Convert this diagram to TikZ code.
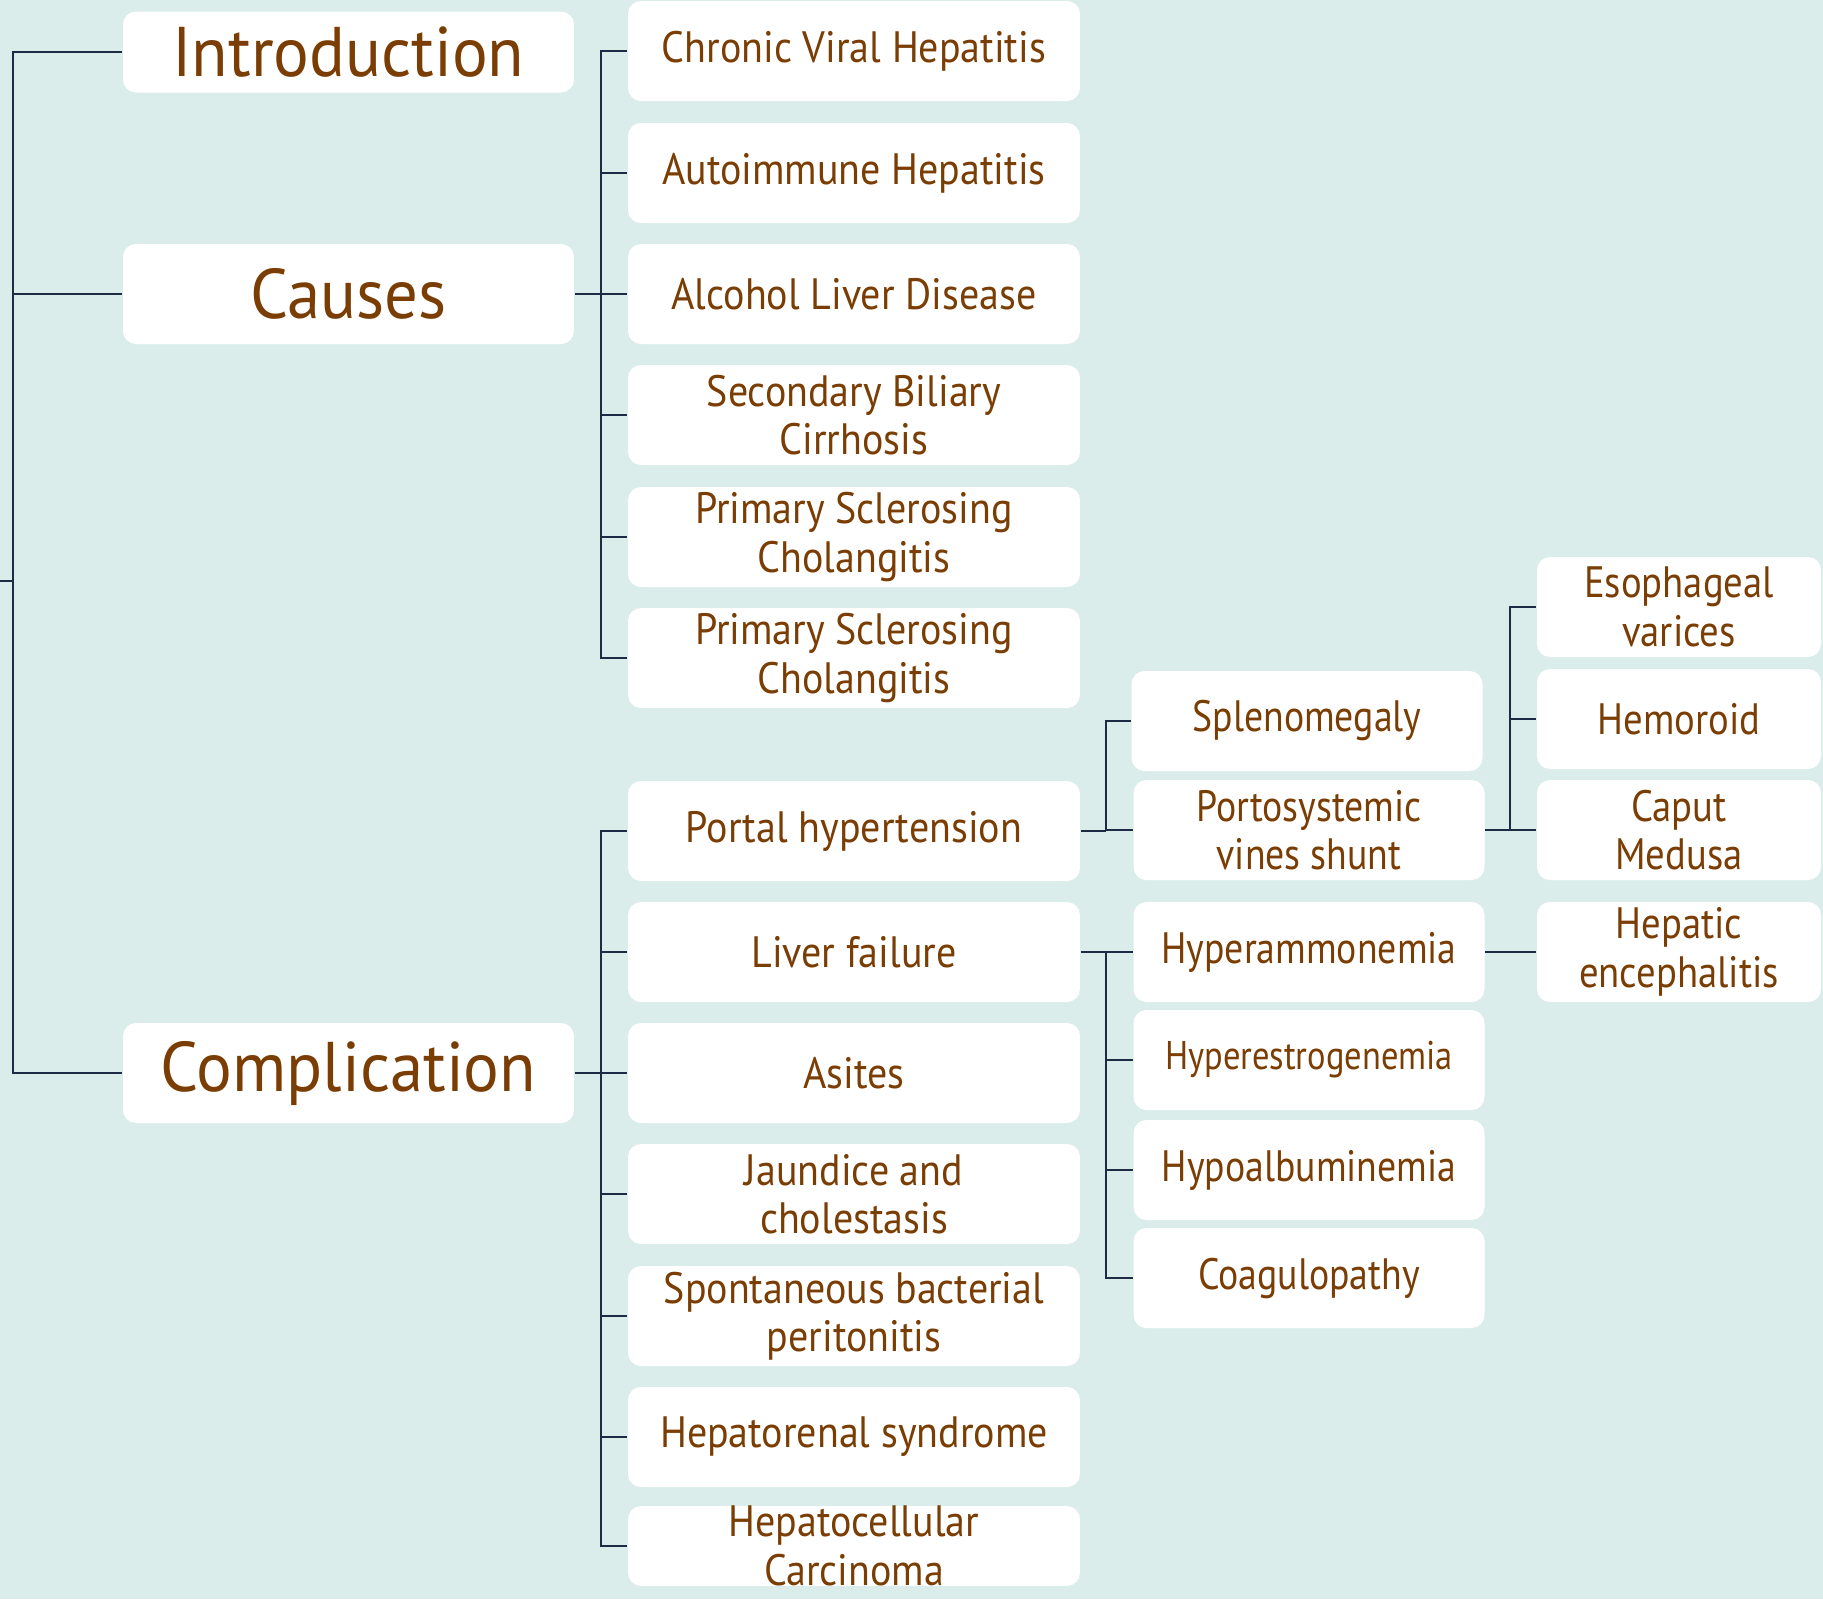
\documentclass[tikz,border=0pt]{standalone}
\usepackage{fontspec}
\setmainfont{PT Sans}[FakeStretch=0.91]
\newfontfamily\headfont{PT Sans}[FakeStretch=0.95]
\newfontfamily\subfont{PT Sans}[FakeStretch=0.86]
\newfontfamily\leaffont{PT Sans}[FakeStretch=0.88]
\definecolor{bgteal}{HTML}{DBEDEA}
\definecolor{txtbrown}{HTML}{7A3D04}
\definecolor{linenavy}{HTML}{1E2B45}

\begin{document}
\begin{tikzpicture}[scale=0.1]
		\tikzstyle{every node}+=[inner sep=0pt]
		\tikzstyle{box}=[fill=white, rounded corners=1.3mm, text=txtbrown, align=center]
		\tikzstyle{topic}=[box, minimum width=45.1mm, minimum height=10mm, font=\headfont\fontsize{20}{24}\selectfont]
		\tikzstyle{cause}=[box, minimum width=45.2mm, minimum height=10mm, font=\fontsize{12.5}{13.8}\selectfont]
		\tikzstyle{sub}=[box, minimum width=35.1mm, minimum height=10mm, font=\subfont\fontsize{12.5}{13.8}\selectfont]
		\tikzstyle{leaf}=[box, minimum width=28.4mm, minimum height=10mm, font=\leaffont\fontsize{12.5}{13.8}\selectfont]
		\tikzstyle{link}=[draw=linenavy, line width=0.6pt]
		\fill [bgteal] (0,0) rectangle (182.3,-159.9);
		\useasboundingbox (0,0) rectangle (182.3,-159.9);
		% first level
		\node [topic, minimum height=8.1mm] (intro) at (34.85,-5.2) {Introduction};
		\node [topic] (causes) at (34.85,-29.4) {Causes};
		\node [topic] (compl) at (34.85,-107.3) {Complication};
		% causes
		\node [cause] (c1) at (85.4,-5.1) {Chronic Viral Hepatitis};
		\node [cause] (c2) at (85.4,-17.3) {Autoimmune Hepatitis};
		\node [cause] (c3) at (85.4,-29.4) {Alcohol Liver Disease};
		\node [cause] (c4) at (85.4,-41.5) {Secondary Biliary\\Cirrhosis};
		\node [cause] (c5) at (85.4,-53.7) {Primary Sclerosing\\Cholangitis};
		\node [cause] (c6) at (85.4,-65.8) {Primary Sclerosing\\Cholangitis};
		% complications
		\node [cause] (k1) at (85.4,-83.1) {Portal hypertension};
		\node [cause] (k2) at (85.4,-95.2) {Liver failure};
		\node [cause] (k3) at (85.4,-107.3) {Asites};
		\node [cause] (k4) at (85.4,-119.4) {Jaundice and\\cholestasis};
		\node [cause] (k5) at (85.4,-131.6) {Spontaneous bacterial\\peritonitis};
		\node [cause] (k6) at (85.4,-143.7) {Hepatorenal syndrome};
		\node [cause, minimum height=7.7mm] (k7) at (85.4,-154.6) {Hepatocellular\\Carcinoma};
		% portal hypertension and liver failure
		\node [sub] (p1) at (130.7,-72.1) {Splenomegaly};
		\node [sub] (p2) at (130.9,-83.0) {Portosystemic\\vines shunt};
		\node [sub] (f1) at (130.9,-95.2) {Hyperammonemia};
		\node [sub, font=\subfont\fontsize{11.4}{13}\selectfont] (f2) at (130.9,-106.0) {Hyperestrogenemia};
		\node [sub] (f3) at (130.9,-117.0) {Hypoalbuminemia};
		\node [sub] (f4) at (130.9,-127.8) {Coagulopathy};
		% last level
		\node [leaf] (v1) at (167.9,-60.7) {Esophageal\\varices};
		\node [leaf] (v2) at (167.9,-71.9) {Hemoroid};
		\node [leaf] (v3) at (167.9,-83.0) {Caput\\Medusa};
		\node [leaf] (h1) at (167.9,-95.2) {Hepatic\\encephalitis};
		% connectors
		\coordinate (rs) at (0,-58.1);
		\coordinate (rb) at (1.3,-58.1);
		\draw [link] (rs) -- (rb);
		\foreach \t in {intro,causes,compl}
			\draw [link] (rb) |- (\t.west);
		\coordinate (cb) at (60.1,-29.4);
		\draw [link] (causes.east) -- (cb);
		\foreach \t in {c1,c2,c3,c4,c5,c6}
			\draw [link] (cb) |- (\t.west);
		\coordinate (kb) at (60.1,-107.3);
		\draw [link] (compl.east) -- (kb);
		\foreach \t in {k1,k2,k3,k4,k5,k6,k7}
			\draw [link] (kb) |- (\t.west);
		\coordinate (pb) at (110.6,-83.1);
		\draw [link] (k1.east) -- (pb);
		\foreach \t in {p1,p2}
			\draw [link] (pb) |- (\t.west);
		\coordinate (fb) at (110.6,-95.2);
		\draw [link] (k2.east) -- (fb);
		\foreach \t in {f1,f2,f3,f4}
			\draw [link] (fb) |- (\t.west);
		\coordinate (vb) at (151.0,-83.0);
		\draw [link] (p2.east) -- (vb);
		\foreach \t in {v1,v2,v3}
			\draw [link] (vb) |- (\t.west);
		\draw [link] (f1.east) -- (h1.west);
	\end{tikzpicture}
\end{document}
